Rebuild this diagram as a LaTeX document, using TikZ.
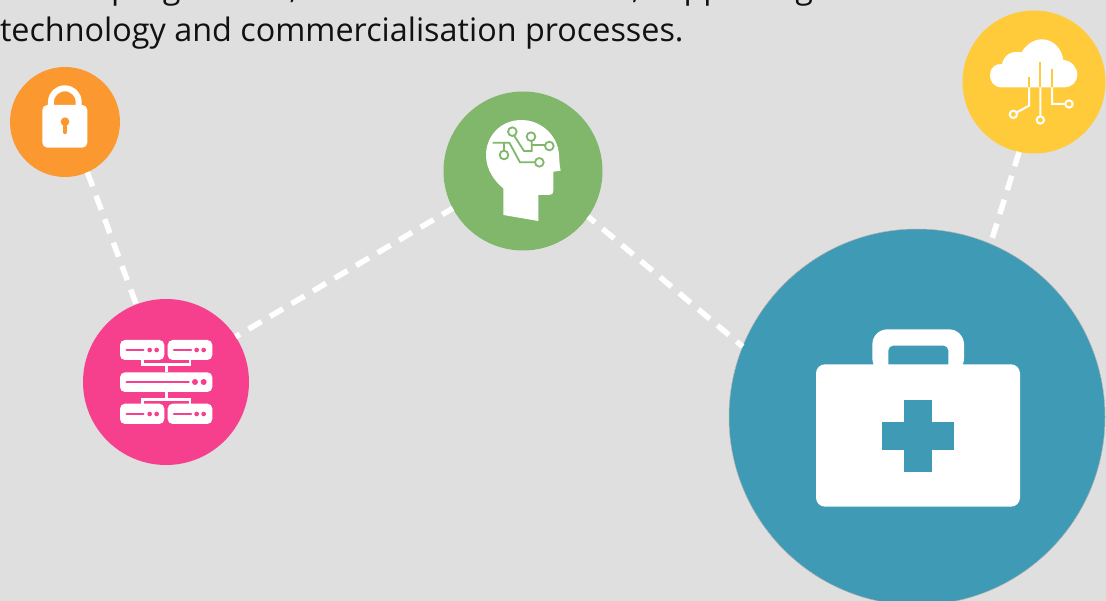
\documentclass[tikz,border=0pt]{standalone}
\usepackage{fontspec}
\setmainfont{Open Sans}
\definecolor{bgc}{HTML}{DFDFDF}
\definecolor{orangec}{HTML}{FC9830}
\definecolor{greenc}{HTML}{80B76B}
\definecolor{pinkc}{HTML}{F6408E}
\definecolor{tealc}{HTML}{3E9AB5}
\definecolor{yellowc}{HTML}{FFCB3A}
\definecolor{txtc}{HTML}{111111}
\tikzset{
  disc/.style={circle,inner sep=0pt,outer sep=0pt,minimum size=#1},
  link/.style={draw=white,line width=5.5pt,dash pattern=on 15pt off 10pt},
  para/.style={anchor=base west,inner sep=0pt,outer sep=0pt,text=txtc,font=\fontsize{32.35pt}{38pt}\selectfont},
  zoomed/.style={x=0.33333pt,y=-0.33333pt},
  wire/.style={line width=2pt},
}
\begin{document}
\begin{tikzpicture}[x=1pt,y=-1pt]
\path[use as bounding box] (0,0) rectangle (1106,601);
\clip (0,0) rectangle (1106,601);
\fill[bgc] (0,0) rectangle (1106,601);
% text
\node[para] (t0a) at (111,-1) {programme,};
\node[para] (t0b) at (632,-1) {, supporting};
\node[para] (t1) at (0,42) {technology and commercialisation processes.};
% discs
\node[disc=110pt,fill=orangec] (lock) at (65,122) {};
\node[disc=166pt,fill=pinkc] (srv) at (166,382) {};
\node[disc=159pt,fill=greenc] (brain) at (523,171) {};
\node[disc=143pt,fill=yellowc] (cloud) at (1034,82) {};
\node[disc=376pt,fill=tealc,draw=gray!60,line width=0.5pt] (kit) at (917,417) {};
% connectors
\draw[link] (lock.-66) -- (srv.111);
\draw[link,dash phase=10pt] (srv.33) -- (brain.-152);
\draw[link,dash phase=6pt] (brain.-35) -- (kit.158.6);
\draw[link] (cloud.-102.7) -- (kit.67.6);
% lock icon
\begin{scope}[shift={(10,70)},zoomed]
\draw[white,line width=6pt] (123,110) -- (123,96) .. controls (123,72) and (142,55) .. (164.5,55) .. controls (187,55) and (206,72) .. (206,96) -- (206,110);
\fill[white,rounded corners=5pt] (97,105) rectangle (232,233);
\fill[orangec] (165,155) circle[radius=13];
\draw[orangec,line width=3.6pt,line cap=round] (165,155) -- (165,187);
\end{scope}
% server icon
\begin{scope}[shift={(110,330)},zoomed]
\draw[white,line width=2.4pt] (97,90) -- (97,104) -- (240,104) -- (240,90) (169,104) -- (169,127) (169,186) -- (169,208) (97,221) -- (97,208) -- (240,208) -- (240,221);
\fill[white,rounded corners=5pt] (30,30) rectangle (163,90);
\fill[white,rounded corners=5pt] (173,30) rectangle (307,90);
\fill[white,rounded corners=5pt] (30,127) rectangle (307,186);
\fill[white,rounded corners=5pt] (30,221) rectangle (163,282);
\fill[white,rounded corners=5pt] (173,221) rectangle (307,282);
\draw[pinkc,line width=2.6pt,line cap=round] (50,60) -- (100,60) (192,60) -- (243,60) (50,156) -- (236,156) (50,252) -- (100,252) (192,252) -- (243,252);
\foreach \px/\py in {119/60,140/60,260/60,281/60,119/252,140/252,260/252,281/252}
  \fill[pinkc] (\px,\py) circle[radius=7];
\foreach \px/\py in {255/156,281/156}
  \fill[pinkc] (\px,\py) circle[radius=9];
\end{scope}
% head icon
\begin{scope}[shift={(470,110)},zoomed]
\fill[white] (100,315) -- (205,333) -- (205,255) -- (238,255) .. controls (246,255) and (250,250) .. (250,243) -- (250,185) -- (272,182) .. controls (266,160) and (270,140) .. (264,115) .. controls (250,60) and (200,30) .. (155,30) .. controls (90,30) and (48,80) .. (48,135) .. controls (48,180) and (75,215) .. (100,235) -- cycle;
\draw[greenc,line width=1.8pt] (68,98) -- (118,98) -- (150,157) -- (195,157)
  (102,98) -- (102,122)
  (133,78) -- (162,123) -- (185,123) -- (185,92)
  (185,105) -- (225,105);
\foreach \px/\py in {208/157,102/135,127/65,183/80,238/108}
  \draw[greenc,line width=1.8pt] (\px,\py) circle[radius=13];
\end{scope}
% cloud icon
\begin{scope}[shift={(970,20)},zoomed]
\fill[white] (95,202) .. controls (72,202) and (60,185) .. (60,165) .. controls (60,145) and (75,130) .. (96,132) .. controls (100,110) and (120,90) .. (155,97) .. controls (170,70) and (195,58) .. (215,58) .. controls (250,58) and (275,85) .. (280,120) .. controls (305,122) and (322,142) .. (322,165) .. controls (322,185) and (305,202) .. (285,202) -- cycle;
\draw[yellowc,wire] (177,172) -- (177,202) (211,127) -- (211,202) (246,147) -- (246,202);
\draw[white,wire] (177,202) -- (177,257) -- (139,278) (211,202) -- (211,289) (246,202) -- (246,252) -- (286,252);
\foreach \px/\py in {130/283,211/300,297/252}
  \draw[white,wire] (\px,\py) circle[radius=11];
\end{scope}
% kit icon
\begin{scope}[shift={(800,320)},zoomed]
\fill[white,rounded corners=15pt] (217,160) -- (217,28) -- (492,28) -- (492,160) -- cycle;
\fill[tealc,rounded corners=5pt] (265,150) -- (265,77) -- (445,77) -- (445,150) -- cycle;
\fill[white,rounded corners=9pt] (48,133) rectangle (660,560);
\fill[tealc] (312,241) rectangle (396,456);
\fill[tealc] (247,306) rectangle (462,390);
\end{scope}
\end{tikzpicture}
\end{document}
